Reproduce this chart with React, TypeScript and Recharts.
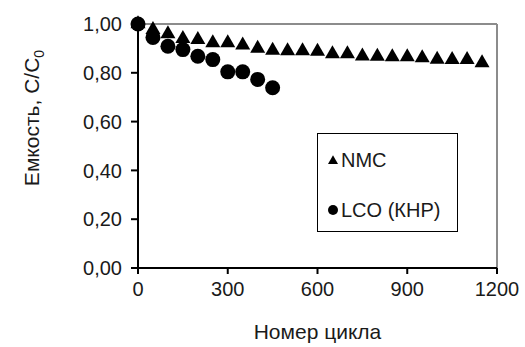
import { Legend, ReferenceLine, Scatter, ScatterChart, XAxis, YAxis } from "recharts";

const FONT = "'Liberation Sans', Arial, sans-serif";
const INK = "#1a1a1a";

const nmcCycles = [0, 50, 100, 150, 200, 250, 300, 350, 400, 450, 500, 550, 600, 650, 700, 750, 800, 850, 900, 950, 1000, 1050, 1100, 1150];
const nmcCapacity = [1.0, 0.977, 0.959, 0.94, 0.936, 0.922, 0.922, 0.913, 0.9, 0.892, 0.89, 0.89, 0.888, 0.877, 0.877, 0.868, 0.867, 0.865, 0.865, 0.861, 0.855, 0.854, 0.854, 0.841];

const lcoCycles = [0, 50, 100, 150, 200, 250, 300, 350, 400, 450];
const lcoCapacity = [1.0, 0.945, 0.909, 0.895, 0.868, 0.854, 0.804, 0.804, 0.773, 0.739];

const xTicks = [0, 300, 600, 900, 1200];
const yTicks = [0, 0.2, 0.4, 0.6, 0.8, 1.0];

const nmcData = nmcCycles.map((x, i) => ({ x, y: nmcCapacity[i] }));
const lcoData = lcoCycles.map((x, i) => ({ x, y: lcoCapacity[i] }));

function triPoints(cx: number, cy: number, side: number) {
  const h = side * 0.866;
  return `${cx},${cy - (h * 2) / 3} ${cx - side / 2},${cy + h / 3} ${cx + side / 2},${cy + h / 3}`;
}

function TriangleDot(props: any) {
  if (props.cx == null) return null;
  return <polygon points={triPoints(props.cx, props.cy, 15)} fill="#000" />;
}

function CircleDot(props: any) {
  if (props.cx == null) return null;
  return <circle cx={props.cx} cy={props.cy} r={7.5} fill="#000" />;
}

function YTitle() {
  return (
    <text transform="translate(39, 118) rotate(-90)" textAnchor="middle" fontSize={21} fontFamily={FONT} fill={INK}>
      Емкость, С/С<tspan fontSize={14} dy={5}>0</tspan>
    </text>
  );
}

function XTitle() {
  return (
    <text x={317.5} y={339} textAnchor="middle" fontSize={21} fontFamily={FONT} fill={INK}>
      Номер цикла
    </text>
  );
}

function LegendBox({ payload }: any) {
  // triangle series first, as in the original legend
  const items = [...(payload ?? [])].sort((a: any, b: any) => (a.type === "triangle" ? -1 : 0) - (b.type === "triangle" ? -1 : 0));
  return (
    <div
      style={{
        position: "relative",
        width: 141,
        height: 99,
        boxSizing: "border-box",
        border: "1px solid #000",
        background: "#fff",
        fontFamily: FONT,
        fontSize: 20,
        color: INK,
      }}
    >
      {items.map((entry: any, i: number) => (
        <div key={entry.value} style={{ position: "absolute", left: 9, top: 13 + i * 50, height: 26, display: "flex", alignItems: "center" }}>
          <svg width={12} height={12} style={{ marginRight: 2 }}>
            {entry.type === "triangle" ? (
              <polygon points={triPoints(6, 7, 10)} fill="#000" />
            ) : (
              <circle cx={6} cy={6} r={5} fill="#000" />
            )}
          </svg>
          <span>{entry.value}</span>
        </div>
      ))}
    </div>
  );
}

export default function App() {
  return (
    <div style={{ position: "absolute", left: 0, top: 0, background: "#fff" }}>
      <ScatterChart width={525} height={347} margin={{ top: 24, right: 28, bottom: 9, left: 0 }}>
        <XAxis
          type="number"
          dataKey="x"
          domain={[0, 1200]}
          ticks={xTicks}
          interval={0}
          height={70}
          tickSize={6}
          tickMargin={8}
          axisLine={{ stroke: "#000", strokeWidth: 2 }}
          tickLine={{ stroke: "#000", strokeWidth: 2 }}
          tick={{ fill: INK, fontSize: 20, fontFamily: FONT }}
          label={<XTitle />}
        />
        <YAxis
          type="number"
          dataKey="y"
          domain={[0, 1]}
          ticks={yTicks}
          interval={0}
          width={138}
          tickSize={7}
          tickMargin={9}
          axisLine={{ stroke: "#000", strokeWidth: 2 }}
          tickLine={{ stroke: "#000", strokeWidth: 2 }}
          tick={{ fill: INK, fontSize: 20, fontFamily: FONT }}
          tickFormatter={(v: number) => v.toFixed(2).replace(".", ",")}
          label={<YTitle />}
        />
        <ReferenceLine y={1} stroke="#8c8c8c" strokeWidth={2} />
        <ReferenceLine x={1200} stroke="#8c8c8c" strokeWidth={2} />
        <Legend
          layout="horizontal"
          verticalAlign="middle"
          align="center"
          wrapperStyle={{ left: 317, top: 133, width: 141, height: 99 }}
          content={<LegendBox />}
        />
        <Scatter name="NMC" data={nmcData} legendType="triangle" shape={<TriangleDot />} isAnimationActive={false} />
        <Scatter name="LCO (КНР)" data={lcoData} legendType="circle" shape={<CircleDot />} isAnimationActive={false} />
      </ScatterChart>
    </div>
  );
}
